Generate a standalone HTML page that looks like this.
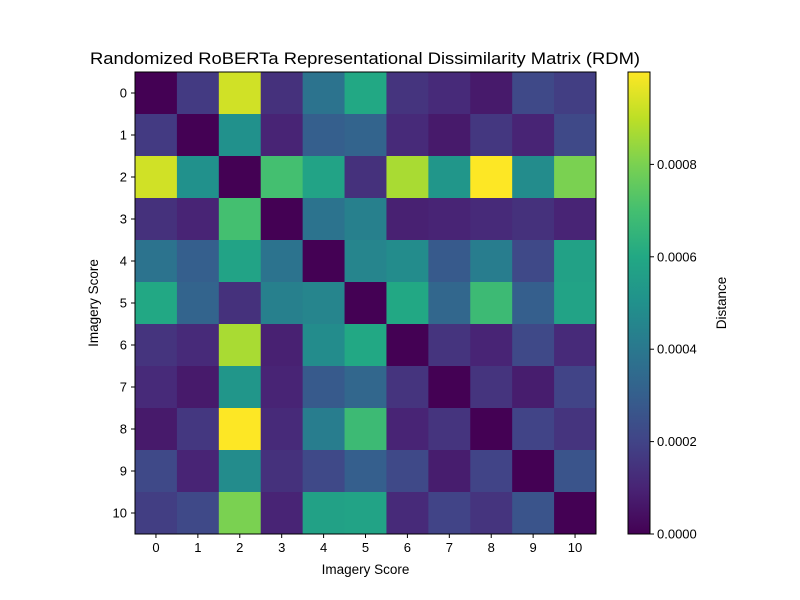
<!DOCTYPE html>
<html><head><meta charset="utf-8"><style>
body{margin:0;background:#fff;}
svg{display:block;font-family:"Liberation Sans","DejaVu Sans",sans-serif;}
</style></head><body>
<svg id="chart" width="800" height="600"></svg>
<script>
const categories = ["0","1","2","3","4","5","6","7","8","9","10"];
const row0 = [0,0.17,0.93,0.14,0.38,0.6,0.15,0.12,0.07,0.22,0.18];
const row1 = [0.17,0,0.5,0.1,0.3,0.32,0.12,0.07,0.16,0.1,0.22];
const row2 = [0.93,0.5,0,0.7,0.58,0.14,0.87,0.52,1.0,0.48,0.8];
const row3 = [0.14,0.1,0.7,0,0.38,0.43,0.09,0.1,0.12,0.14,0.1];
const row4 = [0.38,0.3,0.58,0.38,0,0.45,0.48,0.28,0.42,0.22,0.57];
const row5 = [0.6,0.32,0.14,0.43,0.45,0,0.6,0.33,0.68,0.3,0.58];
const row6 = [0.15,0.12,0.87,0.09,0.48,0.6,0,0.15,0.1,0.22,0.12];
const row7 = [0.12,0.07,0.52,0.1,0.28,0.33,0.15,0,0.15,0.08,0.2];
const row8 = [0.07,0.16,1.0,0.12,0.42,0.68,0.1,0.15,0,0.2,0.15];
const row9 = [0.22,0.1,0.48,0.14,0.22,0.3,0.22,0.08,0.2,0,0.26];
const row10 = [0.18,0.22,0.8,0.1,0.57,0.58,0.12,0.2,0.15,0.26,0];
const valueScale = 0.001; // row values are in units of 0.001
const cbTickValues = [0,0.0002,0.0004,0.0006,0.0008];
const cbTickLabels = ["0.0000","0.0002","0.0004","0.0006","0.0008"];
const rows = [row0,row1,row2,row3,row4,row5,row6,row7,row8,row9,row10];

const NS="http://www.w3.org/2000/svg";
const svg=document.getElementById('chart');
function mk(tag,attrs,txt){const e=document.createElementNS(NS,tag);for(const k in attrs)e.setAttribute(k,attrs[k]);if(txt!=null)e.textContent=txt;svg.appendChild(e);return e;}
const vir=["#440154","#482475","#414487","#355f8d","#2a788e","#21918c","#22a884","#44bf70","#7ad151","#bddf26","#fde725"];
function hex(h){return [1,3,5].map(i=>parseInt(h.substr(i,2),16));}
function color(t){t=Math.max(0,Math.min(1,t));const p=t*10,i=Math.min(9,Math.floor(p)),f=p-i;const a=hex(vir[i]),b=hex(vir[i+1]);return "rgb("+a.map((v,k)=>Math.round(v+(b[k]-v)*f)).join(",")+")";}
const L=135,T=72,W=461,H=462,n=categories.length,cw=W/n,ch=H/n;
let vmax=0;rows.forEach(r=>r.forEach(v=>{vmax=Math.max(vmax,v*valueScale)}));
const xS=i=>L+i*cw, yS=j=>T+j*ch;
rows.forEach((r,j)=>r.forEach((v,i)=>{
  const c=mk('rect',{x:xS(i),y:yS(j),width:cw+0.5,height:ch+0.5,fill:color(v*valueScale/vmax)});
  
  
}));
const fr=mk('rect',{x:L,y:T,width:W,height:H,fill:'none',stroke:'#000','stroke-width':1});

categories.forEach((c,i)=>{
  const cx=xS(i)+cw/2;
  mk('line',{x1:cx,y1:T+H,x2:cx,y2:T+H+4,stroke:'#000'});
  const t=mk('text',{x:cx,y:T+H+18,'text-anchor':'middle','font-size':13},c);
  
  const cy=yS(i)+ch/2;
  mk('line',{x1:L-4,y1:cy,x2:L,y2:cy,stroke:'#000'});
  const u=mk('text',{x:L-8,y:cy+4.5,'text-anchor':'end','font-size':13},c);
  
});
let e=mk('text',{x:L+W/2,y:574,'text-anchor':'middle','font-size':13.5},'Imagery Score');

e=mk('text',{x:98,y:T+H/2,'text-anchor':'middle','font-size':13.5,transform:'rotate(-90 98 '+(T+H/2)+')'},'Imagery Score');

e=mk('text',{x:365,y:64,'text-anchor':'middle','font-size':16.5,textLength:550,lengthAdjust:'spacingAndGlyphs'},'Randomized RoBERTa Representational Dissimilarity Matrix (RDM)');

// colorbar
const CX=628,CW=22,CT=72,CH=462;
const defs=mk('defs',{});
const g=document.createElementNS(NS,'linearGradient');g.setAttribute('id','vg');g.setAttribute('x1','0');g.setAttribute('y1','1');g.setAttribute('x2','0');g.setAttribute('y2','0');defs.appendChild(g);
vir.forEach((c,i)=>{const s=document.createElementNS(NS,'stop');s.setAttribute('offset',(i*10)+'%');s.setAttribute('stop-color',c);g.appendChild(s);});
e=mk('rect',{x:CX,y:CT,width:CW,height:CH,fill:'url(#vg)',stroke:'#000','stroke-width':1});

const cbY=v=>CT+CH-v/vmax*CH;
cbTickValues.forEach((v,i)=>{
  const y=cbY(v);
  mk('line',{x1:CX+CW,y1:y,x2:CX+CW+4,y2:y,stroke:'#000'});
  const t=mk('text',{x:CX+CW+7,y:y+4.5,'font-size':13},cbTickLabels[i]);
  
});
e=mk('text',{x:726,y:CT+CH/2,'text-anchor':'middle','font-size':13.5,transform:'rotate(-90 726 '+(CT+CH/2)+')'},'Distance');

</script>
</body></html>
